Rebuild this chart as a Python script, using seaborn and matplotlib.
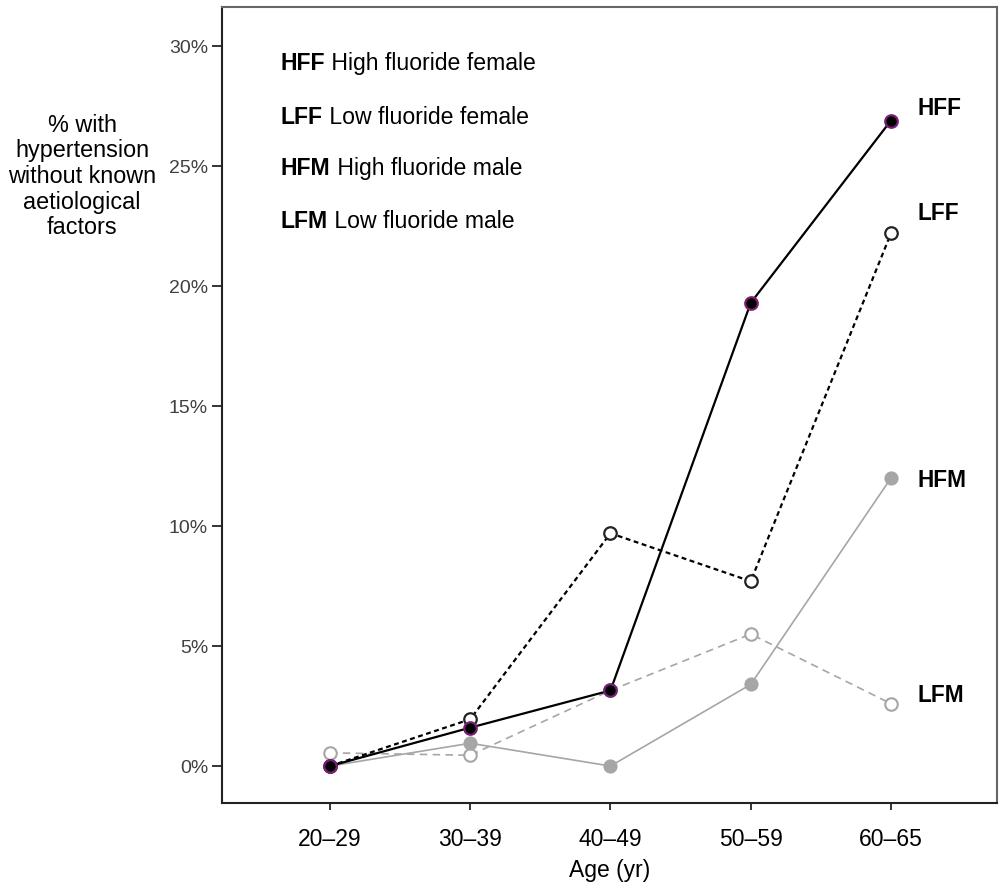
import matplotlib
matplotlib.use("Agg")
import matplotlib.pyplot as plt
import pandas as pd
import seaborn as sns

ages = ["20–29", "30–39", "40–49", "50–59", "60–65"]
hff = [0.0, 1.6, 3.15, 19.3, 26.9]
lff = [0.0, 1.95, 9.7, 7.7, 22.2]
hfm = [0.0, 0.95, 0.0, 3.4, 12.0]
lfm = [0.55, 0.45, 3.15, 5.5, 2.6]

codes = ["HFF", "LFF", "HFM", "LFM"]
names = ["High fluoride female", "Low fluoride female",
         "High fluoride male", "Low fluoride male"]
yticks = [0, 5, 10, 15, 20, 25, 30]

sns.set_style("white")
plt.rcParams["font.family"] = ["Liberation Sans", "DejaVu Sans"]
plt.rcParams["text.color"] = "black"
plt.rcParams["axes.labelcolor"] = "black"

fig = plt.figure(figsize=(10.01, 8.88), dpi=100)
ax = fig.add_axes([222 / 1001, 1 - 803 / 888, 775 / 1001, 796 / 888])

grey = "#a6a6a6"
styles = {
    "HFF": dict(color="black", lw=1.6, ls="-", mfc="black", mec="#7a1f78", mew=1.6),
    "LFF": dict(color="black", lw=1.6, ls=(0, (2.2, 1.6)), mfc="white", mec="#222222", mew=1.6),
    "HFM": dict(color=grey, lw=1.2, ls="-", mfc=grey, mec=grey, mew=1.2),
    "LFM": dict(color=grey, lw=1.2, ls=(0, (4.5, 3.2)), mfc="white", mec=grey, mew=1.5),
}
# label offsets (points) from the last marker
offsets = {"HFF": (19, 9), "LFF": (19, 14), "HFM": (19, -2), "LFM": (19, 6)}

series = {"HFF": hff, "LFF": lff, "HFM": hfm, "LFM": lfm}
for code in ["LFM", "HFM", "LFF", "HFF"]:
    vals = series[code]
    st = styles[code]
    df = pd.DataFrame({"age": ages, "pct": vals})
    sns.lineplot(data=df, x="age", y="pct", ax=ax, errorbar=None,
                 color=st["color"], linewidth=st["lw"], linestyle=st["ls"],
                 marker="o", markersize=9, markerfacecolor=st["mfc"],
                 markeredgecolor=st["mec"], markeredgewidth=st["mew"])
    ax.annotate(code, xy=(len(ages) - 1, vals[-1]), xytext=offsets[code],
                textcoords="offset points", ha="left", va="center",
                fontsize=16.3, fontweight="bold", color="black")

ax.set_xlim(-0.77, 4.756)
ax.set_ylim(-1.54, 31.63)
ax.set_yticks(yticks)
ax.set_yticklabels([f"{t}%" for t in yticks])
ax.tick_params(axis="y", left=True, length=7, width=1.4, pad=3,
               labelsize=14, labelcolor="#404040", color="#333333")
ax.tick_params(axis="x", bottom=True, length=5, width=1.4, pad=13,
               labelsize=16.5, labelcolor="black", color="#333333")

for side in ["left", "bottom"]:
    ax.spines[side].set_color("#222222")
    ax.spines[side].set_linewidth(1.5)
for side in ["top", "right"]:
    ax.spines[side].set_color("#666666")
    ax.spines[side].set_linewidth(1.5)

ax.set_xlabel("Age (yr)", fontsize=16.5, labelpad=6)
ax.set_ylabel("% with\nhypertension\nwithout known\naetiological\nfactors",
              fontsize=16.8, rotation=0, ha="center", va="center", linespacing=1.15)
ax.yaxis.set_label_coords(-0.1806, 0.787)

# key in the upper left
key_y = [0.9296, 0.8618, 0.7977, 0.7299]
for code, name, y in zip(codes, names, key_y):
    t = ax.text(0.0761, y, code, transform=ax.transAxes, fontsize=16.6,
                fontweight="bold", va="center", ha="left", color="black")
    ax.annotate(" " + name, xy=(1, 0.5), xycoords=t, va="center", ha="left",
                fontsize=16.6, color="black")

fig.savefig("out.png", dpi=100)
